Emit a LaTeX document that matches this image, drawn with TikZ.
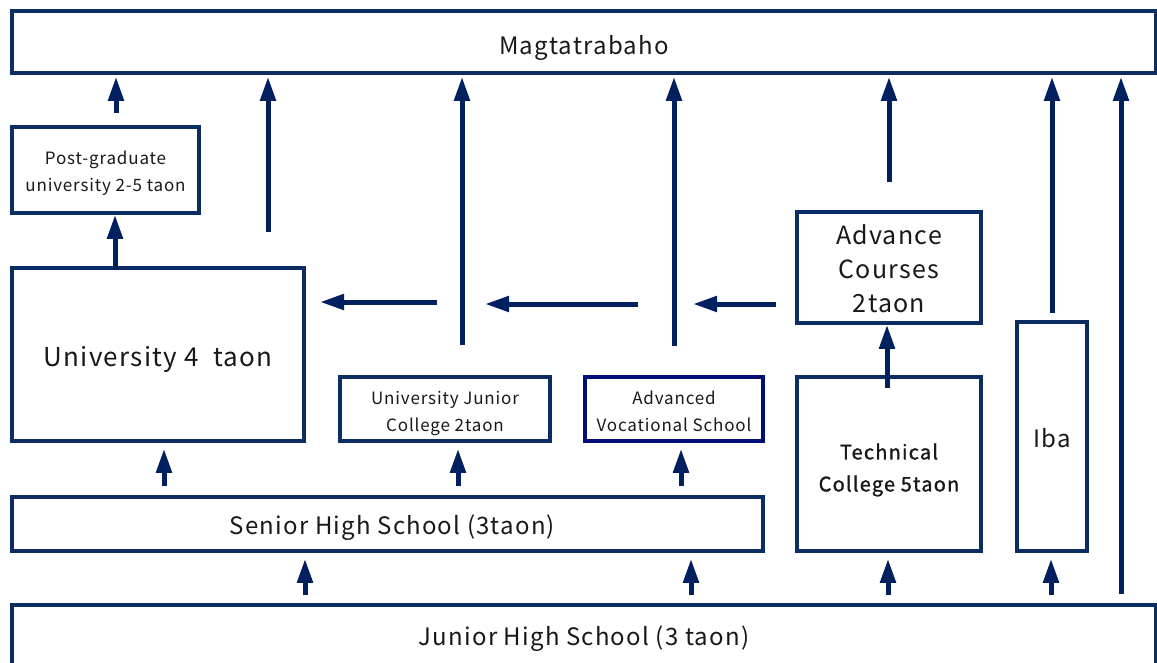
\documentclass[tikz,border=0pt]{standalone}
\usepackage{fontspec}
\setmainfont[LetterSpace=5]{Noto Sans CJK JP}
\newfontfamily\techfont[LetterSpace=6,FakeBold=1.3]{Noto Sans CJK JP}
\usetikzlibrary{arrows.meta}
\definecolor{boxblue}{HTML}{0C2D62}
\definecolor{arrblue}{HTML}{002060}
\definecolor{avsblue}{HTML}{000F78}
\newcommand\tx[2][-4pt]{\raisebox{#1}[\height][\depth]{\begin{tabular}{@{}c@{}}#2\end{tabular}}}
\tikzset{
  box/.style={draw=boxblue, line width=3.5pt, fill=white, inner sep=0pt, text=black!90},
  arr/.style={draw=arrblue, line width=5pt, -{Triangle[width=15pt,length=24pt]}},
}
\begin{document}
\begin{tikzpicture}[x=1pt,y=-1pt]
\useasboundingbox (0,0) rectangle (1157,662);
% boxes
\node[box, minimum width=1144pt, minimum height=62pt, font=\fontsize{24}{28}\selectfont] (mag) at (584,42) {\tx[-7pt]{Magtatrabaho}};
\node[box, minimum width=187pt, minimum height=86pt, font=\fontsize{17}{27}\selectfont] (pg) at (105.5,170) {\tx[-3pt]{Post-graduate\\university 2-5 taon}};
\node[box, minimum width=292pt, minimum height=173pt, font=\fontsize{26}{30}\selectfont] (univ) at (158,354.5) {\tx[-6pt]{University 4\ \ taon}};
\node[box, minimum width=210pt, minimum height=64pt, font=\fontsize{17}{27}\selectfont] (ujc) at (445,409) {\tx[-4pt]{University Junior\\College 2taon}};
\node[box, draw=avsblue, minimum width=178pt, minimum height=64pt, font=\fontsize{17}{27}\selectfont] (avs) at (674,409) {\tx[-4pt]{Advanced\\Vocational School}};
\node[box, minimum width=184pt, minimum height=111pt, font=\fontsize{25}{34}\selectfont] (adv) at (889,267.5) {\tx[-4pt]{Advance\\Courses\\2taon}};
\node[box, minimum width=184pt, minimum height=174pt, font=\fontsize{20}{32}\techfont] (tech) at (889,464) {\tx[-5pt]{Technical\\College 5taon}};
\node[box, minimum width=70pt, minimum height=229pt, font=\fontsize{24}{28}\selectfont] (iba) at (1052,436.5) {\tx[-5pt]{Iba}};
\node[box, minimum width=751pt, minimum height=54pt, font=\fontsize{24}{28}\selectfont] (senior) at (387.5,524) {\tx[-5pt]{\hspace{10pt}Senior High School (3taon)}};
\node[box, minimum width=1144pt, minimum height=62pt, font=\fontsize{24}{28}\selectfont] (junior) at (584,636) {\tx[-4pt]{Junior High School (3 taon)}};
% start points
\coordinate (c1) at (116,113);
\coordinate (c2) at (268,232);
\coordinate (c3) at (462,345);
\coordinate (c4) at (674,346);
\coordinate (c5) at (889,182);
\coordinate (c6) at (1052,313);
\coordinate (c7) at (1121,594);
\coordinate (h1) at (437,302);
\coordinate (h1e) at (320,302);
\coordinate (h2) at (638,304);
\coordinate (h2e) at (485,304);
\coordinate (h3) at (776,304);
\coordinate (h3e) at (693,304);
\coordinate (u1) at (115,270);
\coordinate (t1) at (887,388);
\coordinate (s1) at (164,486);
\coordinate (s2) at (458,486);
\coordinate (s3) at (681,486);
\coordinate (j1) at (305,595);
\coordinate (j2) at (691,595);
\coordinate (j3) at (888,595);
\coordinate (j4) at (1051,595);
% arrows to Magtatrabaho
\foreach \c in {c1,c2,c3,c4,c5,c6,c7}
  \draw[arr, shorten >=2pt] (\c) -- (\c |- mag.south);
% horizontal arrows
\draw[arr] (h1) -- (h1e);
\draw[arr] (h2) -- (h2e);
\draw[arr] (h3) -- (h3e);
% univ -> post-grad, tech -> advance
\draw[arr] (u1) -- (u1 |- pg.south);
\draw[arr] (t1) -- (t1 |- adv.south);
% senior -> upper schools
\draw[arr, shorten >=6pt] (s1) -- (s1 |- univ.south);
\draw[arr, shorten >=6pt] (s2) -- (s2 |- ujc.south);
\draw[arr, shorten >=6pt] (s3) -- (s3 |- avs.south);
% junior -> senior, tech, iba
\draw[arr, shorten >=6pt] (j1) -- (j1 |- senior.south);
\draw[arr, shorten >=6pt] (j2) -- (j2 |- senior.south);
\draw[arr, shorten >=6pt] (j3) -- (j3 |- tech.south);
\draw[arr, shorten >=6pt] (j4) -- (j4 |- iba.south);
\end{tikzpicture}
\end{document}
